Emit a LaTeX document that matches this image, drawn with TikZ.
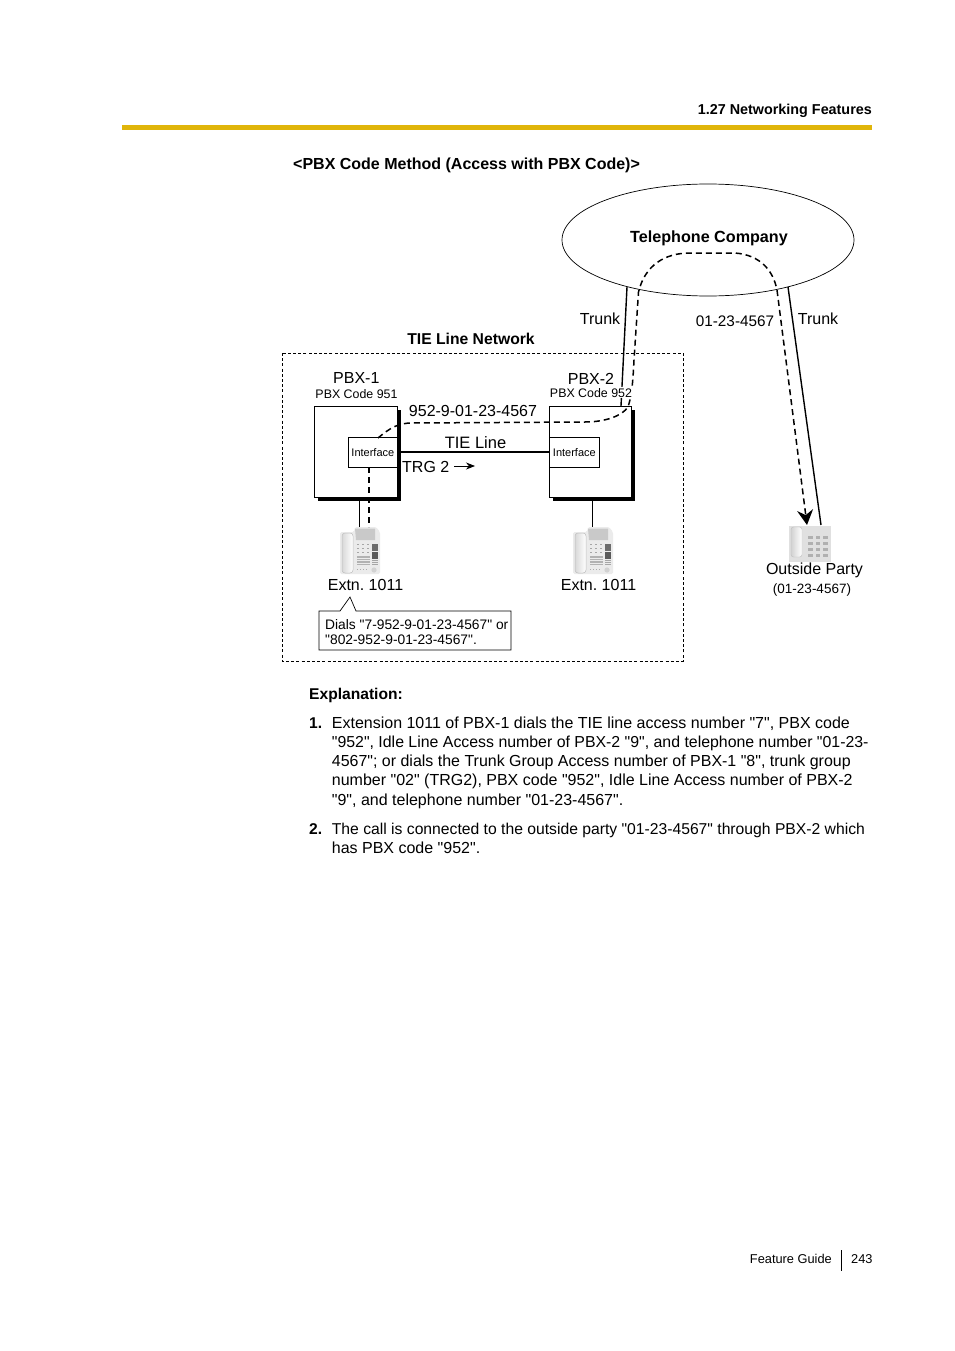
\documentclass[tikz,border=0pt]{standalone}
\usepackage{fontspec}
\setmainfont[Ligatures=TeXOff]{Liberation Sans}
\usetikzlibrary{arrows.meta,calc,shapes.geometric}
\definecolor{goldbar}{HTML}{E0B50A}
\newcommand{\fs}[1]{\fontsize{#1}{#1}\selectfont}
\frenchspacing
\tikzset{
  lbl/.style={inner sep=0pt,anchor=base,font=\fs{16}},
  lblw/.style={inner sep=0pt,anchor=base west,font=\fs{16}},
  small/.style={inner sep=0pt,anchor=base,font=\fs{12.4}},
  boldlbl/.style={inner sep=0pt,anchor=base,font=\fs{16}\bfseries},
  para/.style={inner sep=0pt,anchor=base west,font=\fs{16}},
  parab/.style={inner sep=0pt,anchor=base west,font=\fs{15.6}\bfseries},
  pbxbox/.style={draw=black,line width=.8pt,fill=white,inner sep=0pt,minimum width=83pt,minimum height=91pt},
  shadowbox/.style={fill=black},
  ifbox/.style={draw=black,line width=.7pt,fill=white,inner sep=0pt,minimum width=50pt,minimum height=30pt,font=\fs{11}},
  call/.style={dash pattern=on 6pt off 4pt,line width=1.6pt,black},
  wire/.style={line width=.9pt,black},
  trunkline/.style={line width=1.4pt,black},
  phonespot/.style={inner sep=0pt,minimum width=40pt,minimum height=47pt},
}
\newcommand{\deskphone}[2]{%
\begin{scope}[shift={(#1,#2)}]
  \fill[gray!16,rounded corners=1.5pt] (0,5) -- (14,5) -- (15,0) -- (36,0) -- (40,5) -- (40,47) -- (0,47) -- cycle;
  \shade[left color=gray!30,right color=white,rounded corners=3pt] (2,6) rectangle (13,46);
  \draw[gray!50,line width=.5pt,rounded corners=3pt] (2,6) rectangle (13,46);
  \fill[gray!42] (15,1.5) -- (35,1.5) -- (35,13) -- (16,13) -- cycle;
  \foreach \yy in {17,21,25}{\foreach \xx in {17,22,27}{\fill[gray!70] (\xx,\yy) rectangle ++(2,1.2);}}
  \foreach \yy in {29,31.5,34,36.5}{\fill[gray!60] (16.5,\yy) rectangle (30,\yy+1.5);}
  \foreach \yy in {42}{\foreach \xx in {17,20,23,26}{\fill[gray!65] (\xx,\yy) rectangle ++(1.4,1.2);}}
  \fill[gray!85!black] (31.5,16.5) rectangle (37.5,24);
  \fill[gray!70!black] (31.5,25) rectangle (37.5,32);
  \foreach \yy in {33,35,37}{\fill[gray!70] (31.5,\yy) rectangle (37.5,\yy+1);}
  \fill[gray!35] (34,43) circle (2.6);
\end{scope}}
\begin{document}
\begin{tikzpicture}[x=1pt,y=-1pt]
\useasboundingbox (0,0) rectangle (954,1351);
\fill[white] (0,0) rectangle (954,1351);
% header
\fill[goldbar] (122,125) rectangle (872,130);
\node[inner sep=0pt,anchor=base east,font=\fs{14.35}\bfseries] (hdr) at (872,114.5) {1.27 Networking Features};
\node[parab,font=\fs{16}\bfseries] (title) at (293,169.7) {<PBX Code Method (Access with PBX Code)>};
% telephone company
\node[draw=black,line width=.7pt,ellipse,minimum width=292pt,minimum height=112pt,inner sep=0pt] (telco) at (708,240) {};
\node[boldlbl,font=\fs{16.15}\bfseries] (telcol) at (709,242) {Telephone Company};
% network frame
\draw[black,line width=.8pt,dash pattern=on 3pt off 2.2pt] (282,353) rectangle (683,661);
\node[boldlbl,font=\fs{15.7}\bfseries] (tienet) at (471,344) {TIE Line Network};
% boxes
\fill[shadowbox] (318,410) rectangle (400.5,500.5);
\node[pbxbox,anchor=north west] (pbxa) at (314,406) {};
\fill[shadowbox] (553,410) rectangle (635,500.5);
\node[pbxbox,anchor=north west,minimum width=82pt] (pbxb) at (549,406) {};
\node[ifbox,anchor=north west,minimum width=49pt] (ifa) at (348,437) {Interface\hspace{5pt}};
\node[ifbox,anchor=north west] (ifb) at (549,437) {Interface};
% trunks
\coordinate (tla) at (627,287);
\coordinate (tlb) at (621,406);
\coordinate (tra) at (788,287);
\coordinate (trb) at (821,525);
\draw[trunkline] (tla) -- (tlb);
\draw[trunkline] (tra) -- (trb);
% tie
\draw[line width=2pt,black] (400.5,452.3) -- (ifb.west |- 0,452.3);
% phones
\deskphone{340}{527}
\deskphone{573}{527}
\node[phonespot,anchor=north west] (pha) at (340,527) {};
\node[phonespot,anchor=north west] (phb) at (573,527) {};
\draw[wire] (pbxa.south -| 359.7,0) -- (pha.north -| 359.7,0);
\draw[wire] (592,500.5) -- (phb.north -| 592,0);
% outside phone
\node[inner sep=0pt,minimum width=42pt,minimum height=37pt,anchor=north west] (phc) at (789,525) {};
\fill[gray!24] (789,525.5) rectangle (831,562);
\shade[left color=gray!35,right color=white,rounded corners=2.5pt] (791,527) rectangle (802,557);
\draw[gray!50,line width=.4pt,rounded corners=2.5pt] (791,527) rectangle (802,557);
\foreach \yy in {536,542,548,553.5}{\foreach \xx in {808,815.5,823}{\fill[gray!62] (\xx,\yy) rectangle ++(4.8,3);}}
% call path
\coordinate (c0) at (378,438);
\coordinate (c1) at (369,467);
\draw[call] (c1) -- (pha.north -| 369,0);
\draw[call,line width=1.5pt,-{Stealth[length=15pt,width=16pt,inset=5pt]}]
  (c0) .. controls (390,428) and (398,423) .. (412,423)
  -- (585,422) .. controls (605,422) and (622,416) .. (628,407)
  .. controls (632,395) and (633,380) .. (634,360)
  -- (638.5,292) .. controls (645,265) and (665,253) .. (690,253)
  -- (735,253) .. controls (760,255) and (773,270) .. (777,290)
  -- (807,525);
% labels
\node[lbl] (pa) at (356.3,383.5) {PBX-1};
\node[small] (pac) at (356.5,398) {PBX Code 951};
\node[lbl,fill=white,inner sep=0pt] (pb) at (591,384) {PBX-2};
\node[small,fill=white,inner xsep=3pt,inner ysep=.6pt] (pbc) at (591,397) {PBX Code 952};
\node[lbl] (dial) at (473,416) {952-9-01-23-4567};
\node[lbl,font=\fs{16.5}] (tiel) at (475.5,448) {TIE Line};
\node[lblw] (trg) at (402,472) {TRG 2};
\coordinate (arra) at (454,466);
\coordinate (arrb) at (475,466);
\draw[line width=.8pt,-{Stealth[length=9pt,width=7pt]}] (arra) -- (arrb);
\node[lbl] (ea) at (365.5,590.5) {Extn. 1011};
\node[lbl] (eb) at (598.5,590.5) {Extn. 1011};
\node[lbl] (t1) at (600,324) {Trunk};
\node[lbl] (t2) at (818,324) {Trunk};
\node[lbl,font=\fs{15.3}] (num) at (735,326) {01-23-4567};
\node[lbl] (op) at (814.5,574) {Outside Party};
\node[small,font=\fs{13.5}] (opn) at (812,593.5) {(01-23-4567)};
% callout
\draw[line width=.7pt,black,fill=white] (319,611) -- (340,611) -- (350,597) -- (356,611) -- (511,611) -- (511,650) -- (319,650) -- cycle;
\node[inner sep=0pt,anchor=base west,font=\fs{13.8}] (cl1) at (325,629) {Dials "7-952-9-01-23-4567" or};
\node[inner sep=0pt,anchor=base west,font=\fs{13.8}] (cl2) at (325,644) {"802-952-9-01-23-4567".};
% explanation
\node[parab] (ex) at (309,699) {Explanation:};
\node[parab] (n1) at (309,728.5) {1.};
\node[para] (l1) at (331.7,728.5) {Extension 1011 of PBX-1 dials the TIE line access number "7", PBX code};
\node[para,font=\fs{15.88}] (l2) at (331.7,747.5) {"952", Idle Line Access number of PBX-2 "9", and telephone number "01-23-};
\node[para,font=\fs{15.97}] (l3) at (331.7,766.5) {4567"; or dials the Trunk Group Access number of PBX-1 "8", trunk group};
\node[para] (l4) at (331.7,785.5) {number "02" (TRG2), PBX code "952", Idle Line Access number of PBX-2};
\node[para] (l5) at (331.7,805) {"9", and telephone number "01-23-4567".};
\node[parab] (n2) at (309,834) {2.};
\node[para,font=\fs{15.7}] (l6) at (331.7,834) {The call is connected to the outside party "01-23-4567" through PBX-2 which};
\node[para] (l7) at (331.7,853) {has PBX code "952".};
% footer
\node[inner sep=0pt,anchor=base east,font=\fs{12.8}] (fg) at (832,1263.5) {Feature Guide};
\draw[line width=.8pt] (841,1250) -- (841,1271);
\node[inner sep=0pt,anchor=base west,font=\fs{12.8}] (pg) at (851,1263.5) {243};
\end{tikzpicture}
\end{document}
